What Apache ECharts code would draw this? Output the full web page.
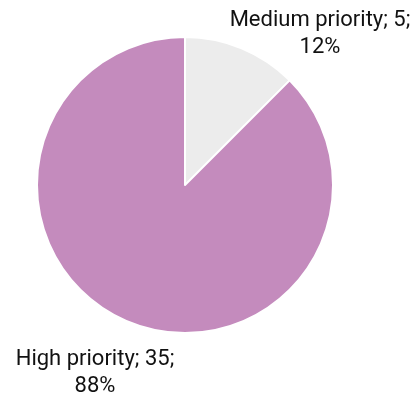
<!DOCTYPE html>
<html>
<head>
<meta charset="utf-8">
<script src="https://cdn.jsdelivr.net/npm/echarts@6/dist/echarts.min.js"></script>
<style>
  html, body { margin: 0; padding: 0; background: #ffffff; }
  #chart { width: 415px; height: 398px; }
</style>
</head>
<body>
<div id="chart"></div>
<script>
const categories = ["Medium priority", "High priority"];
const values = [5, 35];
const percentLabels = ["12%", "88%"];
const colors = ["#ececec", "#c48bbd"];

// label anchor positions (centre of text block)
const labelAnchors = [
  [320, 34],
  [95, 373]
];

const chart = echarts.init(document.getElementById("chart"), null, { renderer: "canvas" });

chart.setOption({
  backgroundColor: "#ffffff",
  animation: false,
  series: [
    {
      type: "pie",
      center: [185, 185],
      radius: [0, 148],
      startAngle: 90,
      clockwise: true,
      avoidLabelOverlap: false,
      itemStyle: { borderColor: "#ffffff", borderWidth: 2 },
      labelLine: { show: false },
      label: {
        show: true,
        position: "outside",
        fontFamily: "Roboto",
        fontSize: 22,
        lineHeight: 27,
        color: "#111111",
        align: "center",
        formatter: (p) => `${p.name}; ${p.value};\n${percentLabels[p.dataIndex]}`
      },
      labelLayout: (params) => {
        const a = labelAnchors[params.dataIndex];
        return { x: a[0], y: a[1], align: "center", verticalAlign: "middle" };
      },
      data: categories.map((name, i) => ({
        name,
        value: values[i],
        itemStyle: { color: colors[i] }
      }))
    }
  ]
});
</script>
</body>
</html>
